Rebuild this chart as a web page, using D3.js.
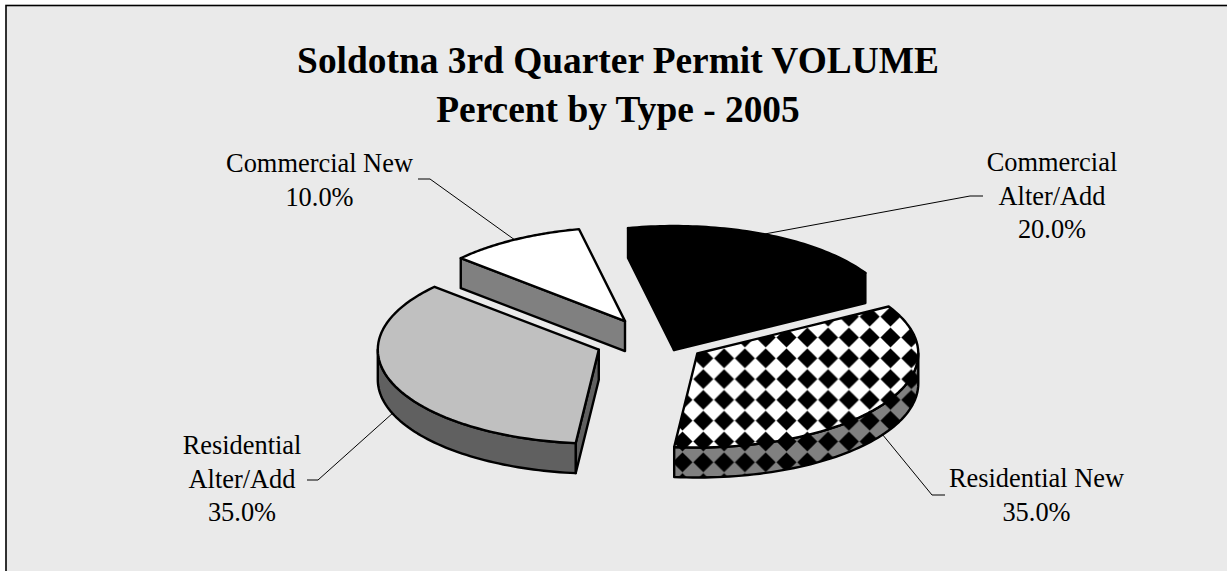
<!DOCTYPE html>
<html>
<head>
<meta charset="utf-8">
<script src="https://cdn.jsdelivr.net/npm/d3@7"></script>
<style>
  html, body { margin: 0; padding: 0; background: #fff; }
  text { font-family: "Liberation Serif", serif; fill: #000; }
</style>
</head>
<body>
<div id="chart"></div>
<script>
const categories = ['Commercial Alter/Add', 'Residential New', 'Residential Alter/Add', 'Commercial New'];
const values = [20, 35, 35, 10];
const labelLines = [['Commercial', 'Alter/Add', '20.0%'], ['Residential New', '35.0%'], ['Residential', 'Alter/Add', '35.0%'], ['Commercial New', '10.0%']];
const titleLines = ['Soldotna 3rd Quarter Permit VOLUME', 'Percent by Type - 2005'];

const width = 1227, height = 571;
const cx = 652, cy = 341, rx = 221, ry = 94, depth = 30;
const explode = [54, 54, 57, 54];
const topFills = ['#000', 'url(#checkTop)', '#c0c0c0', '#fff'];
const sideFills = ['#000', 'url(#checkSide)', '#606060', '#808080'];
const drawOrder = [0, 3, 2, 1];

// label block centre, first baseline, and leader points after the rim anchor
const labelPos = [
  { x: 1052, y: 171, leader: [[970, 196], [983, 196]] },
  { x: 1036.5, y: 487, leader: [[932, 495], [945, 495]] },
  { x: 242, y: 454, leader: [[318, 480], [307, 480]] },
  { x: 319.5, y: 172, leader: [[430, 179], [418, 179]] }
];

const svg = d3.select('#chart').append('svg')
  .attr('width', width)
  .attr('height', height)
  .style('display', 'block');

const defs = svg.append('defs');
defs.append('filter').attr('id', 'soft')
  .append('feGaussianBlur').attr('stdDeviation', 0.6);
[['checkTop', '#fff'], ['checkSide', '#808080']].forEach(([id, bg]) => {
  const p = defs.append('pattern')
    .attr('id', id)
    .attr('patternUnits', 'userSpaceOnUse')
    .attr('x', 692.9).attr('y', 347.9)
    .attr('width', 20.8).attr('height', 20.8);
  p.append('rect').attr('width', 20.8).attr('height', 20.8).attr('fill', bg);
  p.append('path')
    .attr('d', 'M10.4 0.4 L20.4 10.4 L10.4 20.4 L0.4 10.4 Z')
    .attr('fill', '#000')
    .attr('filter', 'url(#soft)');
});

// background panel, open at the bottom and on the right
svg.append('rect').attr('x', 6).attr('y', 5.5).attr('width', width).attr('height', height)
  .attr('fill', '#eaeaea').attr('stroke', '#000').attr('stroke-width', 1.6);

svg.selectAll('.title')
  .data(titleLines)
  .join('text')
  .attr('class', 'title')
  .attr('x', 618)
  .attr('y', (d, i) => 73 + i * 49)
  .attr('text-anchor', 'middle')
  .style('font-size', '37.4px')
  .style('font-weight', 'bold')
  .text(d => d);

const slices = d3.pie().sort(null)
  .startAngle(-12 * Math.PI / 180)
  .endAngle(348 * Math.PI / 180)(values);

const pt = (a, ox, oy, dz = 0) => [ox + rx * Math.sin(a), oy - ry * Math.cos(a) + dz];
const line = d3.line();
const midAngle = s => (s.startAngle + s.endAngle) / 2;
const originX = (s, i) => cx + explode[i] * Math.sin(midAngle(s));
const originY = (s, i) => cy - explode[i] * (ry / rx) * Math.cos(midAngle(s));

function arcPts(a0, a1, ox, oy, dz) {
  return d3.range(0, 61).map(i => pt(a0 + (a1 - a0) * i / 60, ox, oy, dz));
}

const pieG = svg.append('g');
const stroke = sel => sel
  .attr('stroke', '#000').attr('stroke-width', 2.4).attr('stroke-linejoin', 'round');

drawOrder.forEach(i => {
  const s = slices[i];
  const ox = originX(s, i), oy = originY(s, i);
  const g = pieG.append('g');

  // radial walls that face the viewer
  if (Math.sin(s.startAngle) < 0) {
    const p = pt(s.startAngle, ox, oy);
    stroke(g.append('path')).attr('fill', sideFills[i])
      .attr('d', line([[ox, oy], p, [p[0], p[1] + depth], [ox, oy + depth]]) + 'Z');
  }
  if (Math.sin(s.endAngle) > 0) {
    const p = pt(s.endAngle, ox, oy);
    stroke(g.append('path')).attr('fill', sideFills[i])
      .attr('d', line([[ox, oy], p, [p[0], p[1] + depth], [ox, oy + depth]]) + 'Z');
  }

  // outer rim, front half only
  const a0 = Math.max(s.startAngle, Math.PI / 2);
  const a1 = Math.min(s.endAngle, 3 * Math.PI / 2);
  if (a1 > a0) {
    const rim = arcPts(a0, a1, ox, oy, 0).concat(arcPts(a1, a0, ox, oy, depth));
    stroke(g.append('path')).attr('fill', sideFills[i]).attr('d', line(rim) + 'Z');
  }

  // top face
  stroke(g.append('path')).attr('fill', topFills[i])
    .attr('d', line([[ox, oy]].concat(arcPts(s.startAngle, s.endAngle, ox, oy, 0))) + 'Z');
});

// leader lines start on the rim at the middle of their slice
const leaderG = svg.append('g');
slices.forEach((s, i) => {
  const a = midAngle(s);
  const front = Math.cos(a) < 0;
  leaderG.append('path')
    .attr('fill', 'none').attr('stroke', '#000').attr('stroke-width', 1)
    .attr('d', line([pt(a, originX(s, i), originY(s, i), front ? depth : 0)].concat(labelPos[i].leader)));
});

labelLines.forEach((lines, i) => {
  svg.selectAll('.lab' + i)
    .data(lines)
    .join('text')
    .attr('class', 'lab' + i)
    .attr('x', labelPos[i].x)
    .attr('y', (d, j) => labelPos[i].y + j * 33.5)
    .attr('text-anchor', 'middle')
    .style('font-size', '26.4px')
    .text(d => d);
});
</script>
</body>
</html>
